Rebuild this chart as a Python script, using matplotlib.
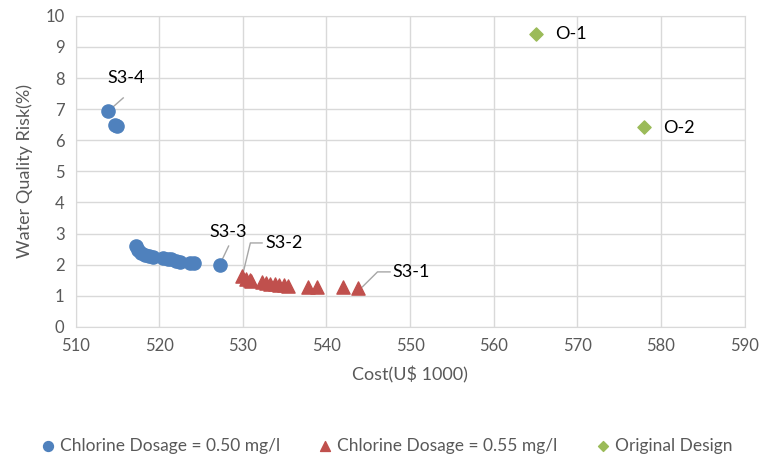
import matplotlib
matplotlib.use("Agg")
import matplotlib.pyplot as plt

plt.rcParams['font.family'] = ['Lato', 'DejaVu Sans']

# chlorine dosage 0.50 mg/l
cost_050 = [513.9, 514.7, 514.9, 517.2, 517.5, 517.8, 518.3, 518.8, 519.3,
            520.5, 521.1, 521.4, 522.0, 522.5, 523.7, 524.2, 527.3]
risk_050 = [6.93, 6.50, 6.45, 2.60, 2.48, 2.38, 2.32, 2.28, 2.25,
            2.22, 2.19, 2.19, 2.12, 2.09, 2.06, 2.06, 2.00]

# chlorine dosage 0.55 mg/l
cost_055 = [529.9, 530.4, 530.8, 531.0, 532.3, 532.8, 533.3, 533.8, 534.3,
            534.9, 535.4, 537.8, 538.9, 542.0, 543.8]
risk_055 = [1.64, 1.54, 1.51, 1.48, 1.45, 1.41, 1.38, 1.38, 1.35,
            1.35, 1.31, 1.30, 1.30, 1.27, 1.25]

# original design
cost_orig = [565.0, 578.0]
risk_orig = [9.43, 6.43]

xticks = list(range(510, 591, 10))
yticks = list(range(0, 11))

fig = plt.figure(figsize=(7.63, 4.57), dpi=100)
ax = fig.add_axes([0.099, 0.2845, 0.877, 0.681])

ax.scatter(cost_050, risk_050, s=90, marker='o', color='#4f81bd', zorder=3,
           label='Chlorine Dosage = 0.50 mg/l')
ax.scatter(cost_055, risk_055, s=90, marker='^', color='#c0504d', zorder=3,
           label='Chlorine Dosage = 0.55 mg/l')
ax.scatter(cost_orig, risk_orig, s=45, marker='D', color='#9bbb59', zorder=3,
           label='Original Design')

ax.set_xlim(510, 590)
ax.set_ylim(0, 10)
ax.set_xticks(xticks)
ax.set_yticks(yticks)
ax.grid(True, color='#d9d9d9', lw=1)
ax.set_axisbelow(True)
for sp in ax.spines.values():
    sp.set_color('#d9d9d9')
ax.tick_params(length=0, labelsize=12, colors='#595959', pad=8)
ax.set_xlabel('Cost(U$ 1000)', fontsize=13, color='#595959', labelpad=9)
ax.set_ylabel('Water Quality Risk(%)', fontsize=13, color='#595959', labelpad=9)

# data labels with leader lines
lc = '#a6a6a6'
ax.plot([514.1, 515.7], [6.98, 7.36], color=lc, lw=1, zorder=2)
ax.text(516.0, 8.0, 'S3-4', fontsize=13, ha='center', va='center')
ax.plot([527.4, 528.3], [2.09, 2.6], color=lc, lw=1, zorder=2)
ax.text(528.3, 3.05, 'S3-3', fontsize=13, ha='center', va='center')
ax.plot([530.0, 530.9, 532.3], [1.70, 2.70, 2.70], color=lc, lw=1, zorder=2)
ax.text(532.7, 2.70, 'S3-2', fontsize=13, ha='left', va='center')
ax.plot([544.3, 546.1, 547.6], [1.29, 1.77, 1.77], color=lc, lw=1, zorder=2)
ax.text(547.9, 1.77, 'S3-1', fontsize=13, ha='left', va='center')
ax.text(567.3, 9.42, 'O-1', fontsize=13, ha='left', va='center')
ax.text(580.3, 6.40, 'O-2', fontsize=13, ha='left', va='center')

fig.legend(loc='center', bbox_to_anchor=(0.5, 0.025), ncol=3, frameon=False,
           fontsize=12.5, handletextpad=-0.3, columnspacing=1.6,
           labelcolor='#595959', markerscale=0.75)

fig.savefig('out.png', dpi=100)
